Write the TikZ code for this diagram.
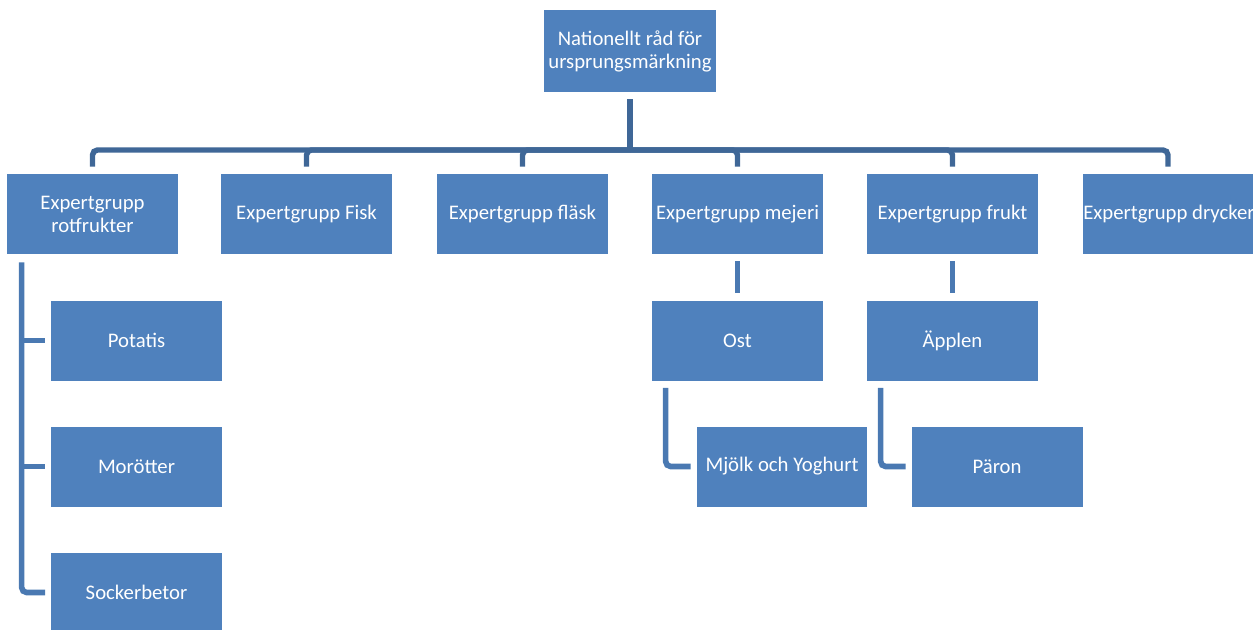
\documentclass[tikz,border=0pt]{standalone}
\usepackage{fontspec}
\setmainfont{Carlito}
\usepackage{tikz}

\definecolor{boxblue}{HTML}{4F81BD}
\definecolor{barblue}{HTML}{3F6797}
\definecolor{linkblue}{HTML}{4A79B2}

\begin{document}
\begin{tikzpicture}
[x=0.02cm, y=-0.02cm,
every node/.style={fill=boxblue, text=white, align=center, inner sep=2pt,
  font=\fontsize{11.8}{13.1}\selectfont},
box/.style={minimum width=3.42cm, minimum height=1.6cm},
topbox/.style={minimum width=3.44cm, minimum height=1.64cm},
bar/.style={draw=barblue, line width=3.1pt, rounded corners=0.1cm,
  shorten >=0.14cm},
link/.style={draw=linkblue, line width=3.2pt, rounded corners=0.1cm,
  shorten >=0.11cm}]

\useasboundingbox (0,0) rectangle (1253,629);

% top
\node[topbox] (rad) at (630,51) {Nationellt råd för\\ursprungsmärkning};
\coordinate (bar) at (0,150);

% expert groups
\node[box] (rot) at (92.5,214) {Expertgrupp\\rotfrukter};
\node[box] (fisk) at (306.5,214) {Expertgrupp Fisk};
\node[box] (flask) at (522.5,214) {Expertgrupp fläsk};
\node[box] (mejeri) at (737.5,214) {Expertgrupp mejeri};
\node[box] (frukt) at (952.5,214) {Expertgrupp frukt};
\node[box, anchor=west, inner xsep=0pt] (dryck) at (1083,214) {Expertgrupp drycker};

% sub groups
\node[box] (potatis) at (136.5,340.5) {Potatis};
\node[box] (morot) at (136.5,466.5) {Morötter};
\node[box] (socker) at (136.5,592.5) {Sockerbetor};
\node[box] (ost) at (737.5,340.5) {Ost};
\node[box] (mjolk) at (782,466.5) {Mjölk och Yoghurt};
\node[box] (applen) at (952.5,340.5) {Äpplen};
\node[box] (paron) at (997,466.5) {Päron};

\coordinate (mid) at (rad.south |- bar);
\draw[bar, shorten <=0.14cm, shorten >=0pt] (rad.south) -- (mid);
\draw[bar] (mid) -| (rot.north);
\draw[bar] (mid) -| (fisk.north);
\draw[bar] (mid) -| (flask.north);
\draw[bar] (mid) -| (mejeri.north);
\draw[bar] (mid) -| (frukt.north);
\draw[bar] (mid) -| ([xshift=1.7cm]dryck.north west);

\coordinate (spine) at ([xshift=0.3cm]rot.south west);
\draw[link, shorten <=0.16cm] (spine) |- (socker.west);
\draw[link] (spine |- potatis.west) -- (potatis.west);
\draw[link] (spine |- morot.west) -- (morot.west);

\draw[link, shorten <=0.14cm, shorten >=0.14cm] (mejeri.south) -- (ost.north);
\draw[link, shorten <=0.14cm] ([xshift=0.28cm]ost.south west) |- (mjolk.west);
\draw[link, shorten <=0.14cm, shorten >=0.14cm] (frukt.south) -- (applen.north);
\draw[link, shorten <=0.14cm] ([xshift=0.28cm]applen.south west) |- (paron.west);
\end{tikzpicture}
\end{document}
